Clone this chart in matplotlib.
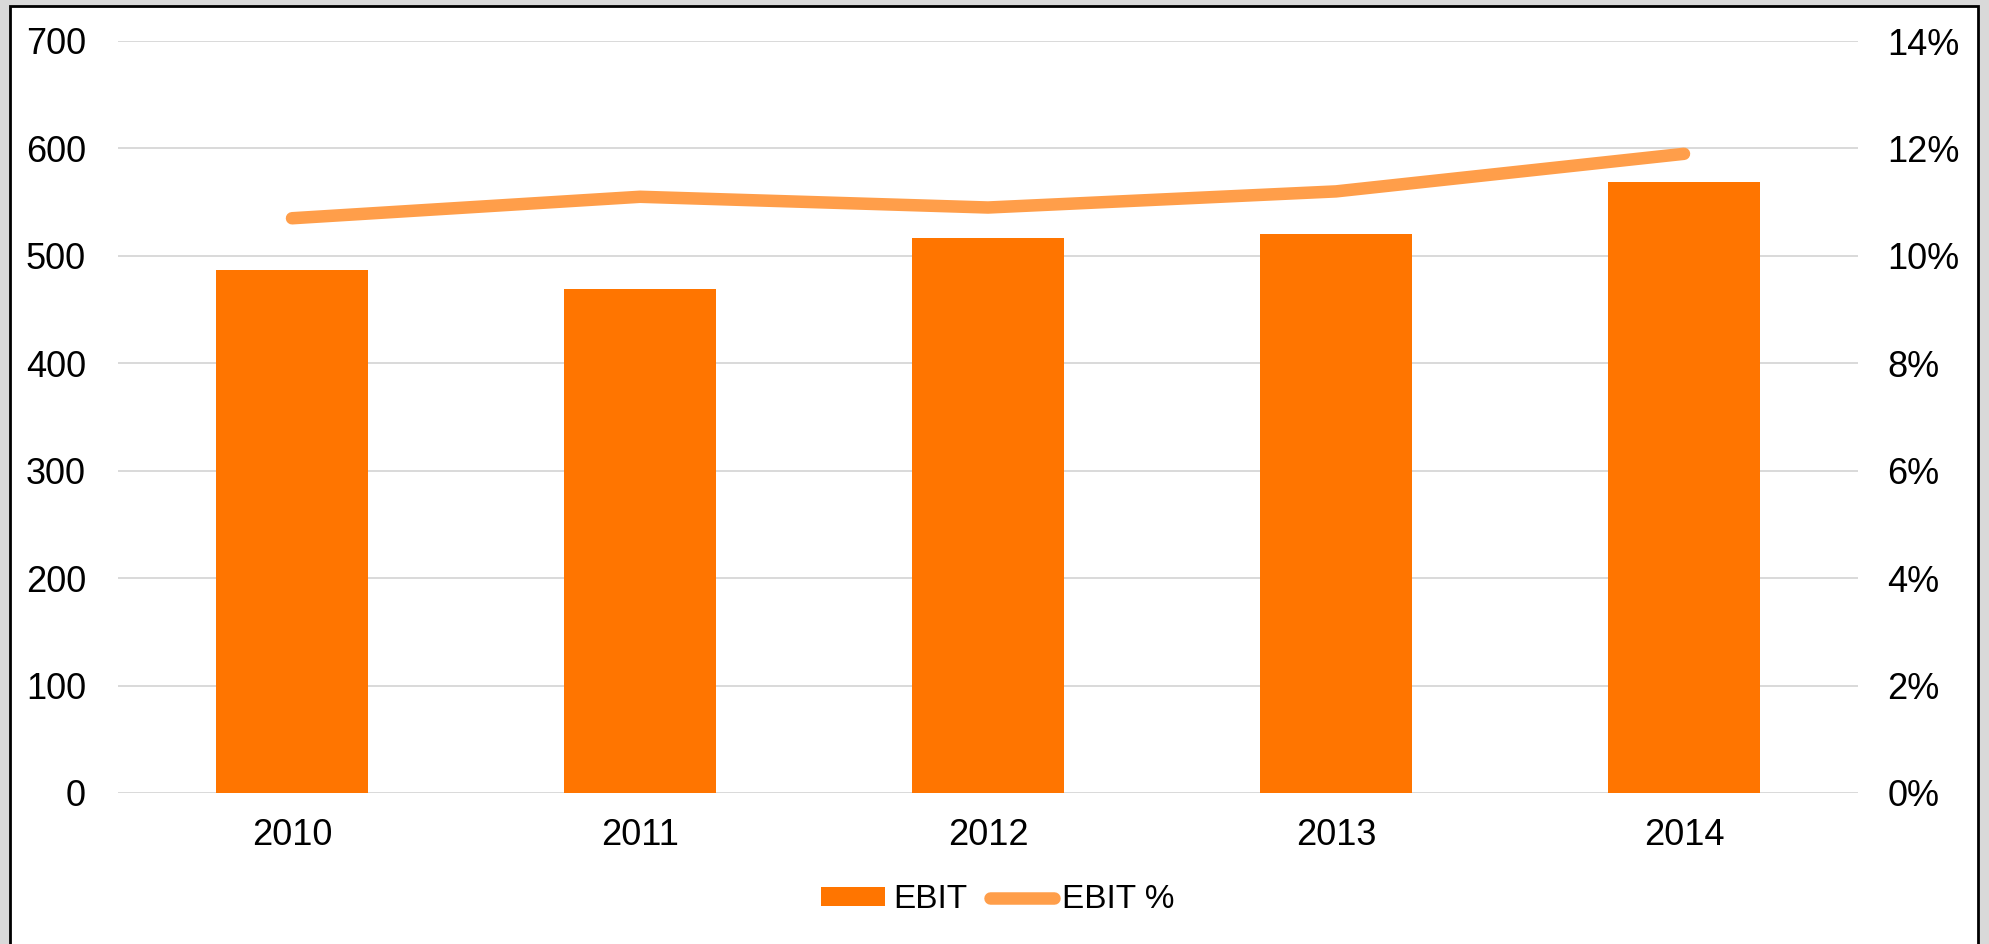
import matplotlib.pyplot as plt
from matplotlib.patches import Rectangle
from matplotlib.ticker import FuncFormatter

plt.rcParams['font.family'] = ['Liberation Sans', 'DejaVu Sans']

years = ['2010', '2011', '2012', '2013', '2014']
ebit = [487, 469, 517, 520, 569]
ebit_pct = [10.7, 11.1, 10.9, 11.2, 11.9]

W, H = 1990, 944
fig = plt.figure(figsize=(W / 100, H / 100), dpi=100)
fig.patch.set_facecolor('#d9d9d9')

# white panel with black border, behind everything
fig.patches.append(Rectangle((10 / W, -0.05), (1978 - 10) / W, 1.05 - 6 / H,
                             transform=fig.transFigure, facecolor='white',
                             edgecolor='black', linewidth=2, zorder=-10))

ax = fig.add_axes([118 / W, 1 - 793 / H, (1858 - 118) / W, (793 - 41) / H])
ax.set_facecolor('none')
x = range(len(years))
ax.bar(x, ebit, width=0.436, color='#ff7500', label='EBIT', zorder=2)
ax.set_ylim(0, 700)
ax.set_xlim(-0.5, len(years) - 0.5)
ax.set_yticks(range(0, 701, 100))
ax.set_xticks(list(x))
ax.set_xticklabels(years)
ax.grid(axis='y', color='#d9d9d9', linewidth=1.4, zorder=0)
for s in ax.spines.values():
    s.set_visible(False)
ax.tick_params(length=0, labelsize=26, colors='black')
ax.tick_params(axis='y', pad=23)
ax.tick_params(axis='x', pad=18)

ax2 = ax.twinx()
ax2.plot(list(x), ebit_pct, color='#ff9e4a', linewidth=9,
         solid_capstyle='round', solid_joinstyle='round', label='EBIT %', zorder=3)
ax2.set_ylim(0, 14)
ax2.set_yticks(range(0, 15, 2))
ax2.yaxis.set_major_formatter(FuncFormatter(lambda v, p: f'{v:.0f}%'))
for s in ax2.spines.values():
    s.set_visible(False)
ax2.tick_params(length=0, labelsize=26, pad=21)

h1, l1 = ax.get_legend_handles_labels()
h2, l2 = ax2.get_legend_handles_labels()
fig.legend(h1 + h2, l1 + l2, loc='center', bbox_to_anchor=(998 / W, 1 - 900 / H),
           ncol=2, frameon=False, fontsize=24, handlelength=1.9, handleheight=0.5,
           handletextpad=0.25, columnspacing=0.7)

fig.savefig('out.png', dpi=100, facecolor=fig.get_facecolor())
